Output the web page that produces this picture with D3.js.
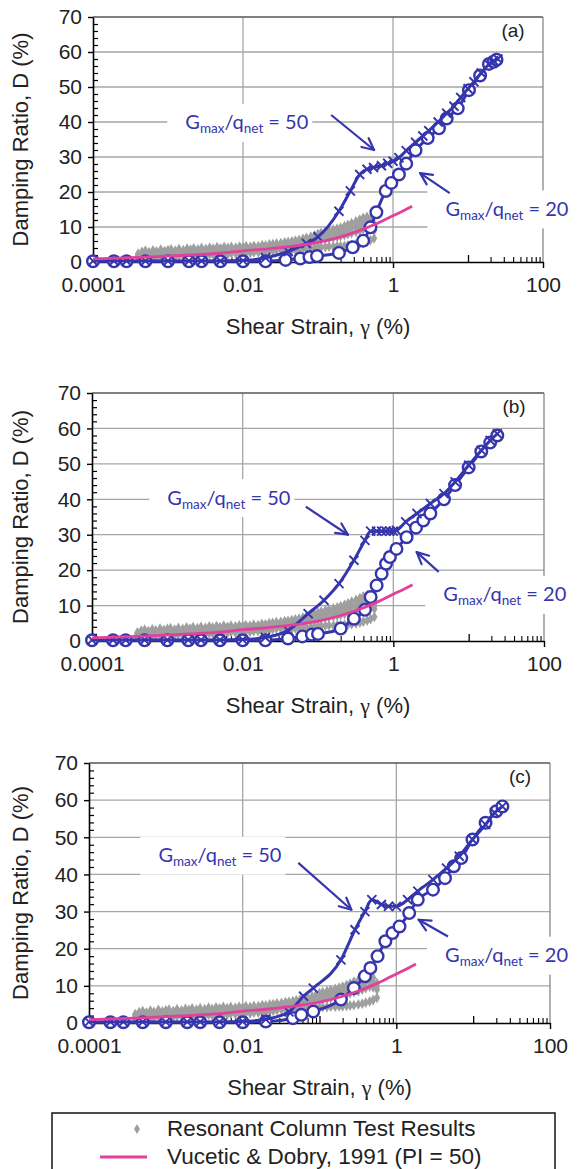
<!DOCTYPE html>
<html>
<head>
<meta charset="utf-8">
<script src="https://cdn.jsdelivr.net/npm/d3@7"></script>
<style>
  body { margin: 0; background: #fff; }
  svg { display: block; }
</style>
</head>
<body>
<svg id="chart" width="580" height="1169"></svg>
<script>
// ---- Axis ticks ----
const strainTicks = [1e-4, 1e-2, 1, 100];
const strainTickLabels = ["0.0001", "0.01", "1", "100"];
const dampingTicks = [0, 10, 20, 30, 40, 50, 60, 70];
const panelTags = ["(a)", "(b)", "(c)"];

// ---- Resonant column test results (shear strain %, damping %) ----
const rcStrain = [0.0004,0.00045,0.0005,0.00056,0.00063,0.0007,0.0008,0.0009,0.001,0.0011,
  0.00125,0.0014,0.0016,0.0018,0.002,0.0022,0.0025,0.0028,0.0032,0.0036,
  0.004,0.0045,0.005,0.0056,0.0063,0.007,0.008,0.009,0.01,0.011,
  0.0125,0.014,0.016,0.018,0.02,0.0225,0.025,0.028,0.032,0.036,
  0.04,0.045,0.05,0.056,0.063,0.07,0.08,0.09,0.1,0.11,
  0.125,0.14,0.16,0.18,0.2,0.225,0.25,0.28,0.32,0.36,
  0.4,0.45,0.5,0.56];
const rcDampHigh = [2.4,2.9,3.2,2.8,3.3,3.0,3.5,3.1,3.4,3.6,
  3.2,3.7,3.4,3.8,3.5,3.9,3.6,4.0,3.7,4.1,
  3.8,4.2,3.9,4.3,4.0,4.3,4.1,4.4,4.2,4.5,
  4.3,4.6,4.5,4.8,4.7,5.0,5.1,5.3,5.4,5.6,
  5.7,5.9,6.1,6.3,6.6,6.9,7.2,7.6,8.0,8.3,
  8.6,8.9,9.2,9.5,9.8,10.2,10.6,11.1,11.6,12.1,
  12.6,12.9,12.2,10.8];
const rcDampUpper = [2.1,2.4,2.7,2.4,2.8,2.6,2.9,2.7,2.9,3.1,
  2.9,3.2,3.0,3.3,3.1,3.4,3.2,3.5,3.3,3.6,
  3.4,3.7,3.5,3.8,3.6,3.9,3.7,4.0,3.8,4.1,
  3.9,4.2,4.1,4.4,4.3,4.6,4.7,4.9,5.0,5.2,
  5.2,5.4,5.6,5.7,6.0,6.2,6.5,6.8,7.1,7.4,
  7.6,7.9,8.1,8.4,8.6,9.0,9.4,9.7,10.1,10.6,
  11.0,11.4,10.9,9.9];
const rcDampMid = [1.8,2.0,2.2,2.0,2.3,2.2,2.4,2.3,2.5,2.6,
  2.5,2.7,2.6,2.8,2.7,2.9,2.8,3.0,2.9,3.1,
  3.0,3.2,3.1,3.3,3.2,3.4,3.3,3.5,3.4,3.6,
  3.5,3.7,3.7,3.9,3.9,4.1,4.2,4.4,4.5,4.7,
  4.6,4.8,5.0,5.1,5.3,5.5,5.7,6.0,6.2,6.4,
  6.6,6.8,7.0,7.2,7.4,7.7,8.0,8.3,8.6,9.0,
  9.4,9.8,9.6,9.0];
const rcDampLow = [1.2,1.3,1.4,1.3,1.5,1.4,1.6,1.5,1.6,1.7,
  1.6,1.8,1.7,1.9,1.8,2.0,1.9,2.1,2.0,2.2,
  2.1,2.3,2.2,2.4,2.3,2.5,2.4,2.6,2.5,2.7,
  2.6,2.8,2.8,3.0,3.0,3.2,3.3,3.5,3.6,3.8,
  3.4,3.5,3.6,3.7,3.8,3.9,4.0,4.1,4.2,4.3,
  4.3,4.4,4.4,4.5,4.5,4.6,4.7,4.8,5.0,5.2,
  5.5,5.8,6.2,6.8];

// ---- Vucetic & Dobry (1991), PI = 50 ----
const vdStrain  = [0.0001,0.0002,0.0005,0.001,0.002,0.005,0.01,0.02,0.05,0.1,0.2,0.3,0.5,0.7,1.0,1.4,1.8];
const vdDamping = [0.9,1.1,1.4,1.7,2.0,2.5,3.2,3.7,4.6,5.6,7.2,8.4,10.2,11.6,13.2,14.7,15.9];

// ---- Panel (a) ----
const g50StrainA = [1e-4,1.9e-4,2.8e-4,5e-4,1e-3,1.9e-3,2.8e-3,5e-3,1e-2,0.02,0.04,0.07,0.1,0.19,0.27,0.36,0.45,0.55,0.7,0.85,1.0,1.2,1.5,2.0,2.5,3.0,4.0,5.2,6.5,8.0,10,12,15,19,22,25];
const g50DampA   = [0.3,0.3,0.3,0.3,0.3,0.3,0.3,0.3,0.4,1.2,3.0,5.3,7.2,14.5,20.3,25.0,26.5,27.0,27.5,28.2,28.8,29.8,31.8,34.2,36.0,37.5,40.0,42.5,44.5,47.0,49.5,51.5,54.0,56.5,57.5,58.0];
const g20StrainA = [1e-4,1.9e-4,2.8e-4,5e-4,1e-3,1.9e-3,2.8e-3,5e-3,1e-2,0.02,0.037,0.058,0.077,0.097,0.19,0.29,0.4,0.5,0.6,0.8,0.95,1.2,1.5,2.0,2.9,4.1,5.2,7.3,10.3,14.5,19,22,24];
const g20DampA   = [0.2,0.2,0.2,0.2,0.2,0.2,0.2,0.2,0.2,0.2,0.6,1.0,1.4,1.7,2.6,4.2,6.1,9.9,14.2,20.3,22.6,25.0,28.1,31.9,35.4,38.2,41.0,43.9,49.1,53.3,56.6,57.2,57.8];

// ---- Panel (b) ----
const g50StrainB = [1e-4,1.9e-4,2.8e-4,5e-4,1e-3,1.9e-3,2.8e-3,5e-3,1e-2,0.02,0.04,0.074,0.12,0.19,0.3,0.42,0.5,0.6,0.7,0.8,0.9,1.0,1.1,1.46,2.06,3.1,4.7,6.6,10,14.7,19.3,24];
const g50DampB   = [0.3,0.3,0.3,0.3,0.3,0.3,0.3,0.3,0.4,1.0,3.0,7.7,11.5,16.2,22.8,28.4,31.0,31.0,31.0,31.0,31.0,31.0,31.2,33.6,36.0,38.8,41.6,44.9,49.6,53.8,56.6,58.5];
const g20StrainB = [1e-4,1.9e-4,2.8e-4,5e-4,1e-3,1.9e-3,2.8e-3,5e-3,1e-2,0.02,0.04,0.062,0.083,0.1,0.2,0.3,0.42,0.5,0.6,0.7,0.8,0.9,1.1,1.5,2.0,2.5,3.1,4.7,6.6,10,14.7,19.3,24];
const g20DampB   = [0.2,0.2,0.2,0.2,0.2,0.2,0.2,0.2,0.2,0.2,0.7,1.3,1.8,2.0,3.5,6.3,8.8,12.4,15.7,19.0,21.8,23.7,26.0,29.3,32.0,34.0,36.0,40.0,44.0,49.0,53.5,56.0,58.0];

// ---- Panel (c) ----
const g50StrainC = [1e-4,1.9e-4,2.8e-4,5e-4,1e-3,1.9e-3,2.8e-3,5e-3,1e-2,0.02,0.04,0.062,0.083,0.19,0.29,0.39,0.48,0.64,0.79,1.0,1.4,1.9,3.0,4.5,6.6,9.8,14.5,19,24];
const g50DampC   = [0.3,0.3,0.3,0.3,0.3,0.3,0.3,0.3,0.4,1.0,3.0,7.2,9.4,17.0,25.1,30.0,33.2,31.9,31.4,31.4,33.2,35.5,38.6,41.7,44.9,49.4,53.4,56.6,58.3];
const g20StrainC = [1e-4,1.9e-4,2.8e-4,5e-4,1e-3,1.9e-3,2.8e-3,5e-3,1e-2,0.02,0.045,0.058,0.083,0.19,0.28,0.39,0.46,0.57,0.72,0.89,1.1,1.47,1.9,3.0,4.3,5.6,7.0,9.8,14.5,20,24];
const g20DampC   = [0.2,0.2,0.2,0.2,0.2,0.2,0.2,0.2,0.2,0.4,1.3,2.2,3.1,6.3,9.4,12.6,14.8,18.0,22.0,24.2,26.0,29.6,33.2,35.9,39.0,42.2,44.4,49.4,53.9,57.0,58.3];

const legendLabels = ["Resonant Column Test Results", "Vucetic & Dobry, 1991 (PI = 50)"];

// ---- Styling ----
const BLUE = "#3535ad";
const PINK = "#e2409a";
const GREY = "#9f9f9f";
const GRID = "#a6a6a6";
const SANS = "'Liberation Sans', Arial, sans-serif";
const LABEL_FONT = "Lato, 'Open Sans', sans-serif";

const svg = d3.select("#chart");

// Plot frames for the three stacked panels
const frames = [
  { left: 93, right: 543, top: 17,  bottom: 262 },
  { left: 92, right: 544, top: 393, bottom: 641 },
  { left: 89, right: 550, top: 763, bottom: 1023 }
];

// Annotation placement in data coordinates (strain, damping)
const panels = [
  { tag: panelTags[0], g50: [g50StrainA, g50DampA], g20: [g20StrainA, g20DampA],
    lab50: [1.7e-3, 39.6], arr50: [[0.15, 42], [0.56, 32]],
    lab20: [5.0, 14.9],    arr20: [[5.7, 19.7], [2.3, 25.4]] },
  { tag: panelTags[1], g50: [g50StrainB, g50DampB], g20: [g20StrainB, g20DampB],
    lab50: [1.0e-3, 40.2], arr50: [[0.069, 37.9], [0.25, 30.0]],
    lab20: [4.6, 12.9],    arr20: [[4.0, 19.5], [2.04, 25.1]] },
  { tag: panelTags[2], g50: [g50StrainC, g50DampC], g20: [g20StrainC, g20DampC],
    lab50: [8.0e-4, 44.9], arr50: [[0.053, 43.1], [0.26, 30.5]],
    lab20: [4.3, 18.0],    arr20: [[4.7, 23.3], [1.95, 27.8]] }
];

function gLabel(g, x, y, value) {
  const t = g.append("text")
    .attr("x", x).attr("y", y)
    .attr("font-family", LABEL_FONT).attr("font-size", 20)
    .attr("fill", BLUE);
  t.append("tspan").text("G");
  t.append("tspan").attr("font-size", 13.5).attr("dy", 4).text("max");
  t.append("tspan").attr("dy", -4).text("/q");
  t.append("tspan").attr("font-size", 13.5).attr("dy", 4).text("net");
  t.append("tspan").attr("dy", -4).text(" = " + value);
  const bb = t.node().getBBox();
  g.insert("rect", () => t.node())
    .attr("x", bb.x - 18).attr("y", bb.y + bb.height / 2 - 19)
    .attr("width", bb.width + 22).attr("height", 38)
    .attr("fill", "#fff");
  return t;
}

function arrow(g, p0, p1) {
  g.append("line").attr("x1", p0[0]).attr("y1", p0[1]).attr("x2", p1[0]).attr("y2", p1[1])
    .attr("stroke", BLUE).attr("stroke-width", 2.2);
  const ang = Math.atan2(p1[1] - p0[1], p1[0] - p0[0]);
  [-0.45, 0.45].forEach(da => {
    const a = ang + Math.PI + da;
    g.append("line")
      .attr("x1", p1[0]).attr("y1", p1[1])
      .attr("x2", p1[0] + 13 * Math.cos(a)).attr("y2", p1[1] + 13 * Math.sin(a))
      .attr("stroke", BLUE).attr("stroke-width", 2.2).attr("stroke-linecap", "round");
  });
}

panels.forEach((p, i) => {
  const f = frames[i];
  const g = svg.append("g");
  const x = d3.scaleLog().domain([1e-4, 100]).range([f.left, f.right]);
  const y = d3.scaleLinear().domain([0, 70]).range([f.bottom, f.top]);

  // Gridlines
  dampingTicks.filter(v => v > 0 && v < 70).forEach(v => {
    g.append("line").attr("x1", f.left).attr("x2", f.right).attr("y1", y(v)).attr("y2", y(v))
      .attr("stroke", GRID).attr("stroke-width", 1.3);
  });
  [1e-2, 1].forEach(v => {
    g.append("line").attr("x1", x(v)).attr("x2", x(v)).attr("y1", f.top).attr("y2", f.bottom)
      .attr("stroke", GRID).attr("stroke-width", 1.3);
  });
  // Frame: top and right edges
  g.append("line").attr("x1", f.left).attr("x2", f.right).attr("y1", f.top).attr("y2", f.top)
    .attr("stroke", "#555").attr("stroke-width", 1.5);
  g.append("line").attr("x1", f.right).attr("x2", f.right).attr("y1", f.top).attr("y2", f.bottom)
    .attr("stroke", "#888").attr("stroke-width", 1.3);

  // Annotation labels (white boxes hide the grid beneath)
  const ann = g.append("g");
  gLabel(ann, x(p.lab50[0]), y(p.lab50[1]) + 6, 50);
  gLabel(ann, x(p.lab20[0]), y(p.lab20[1]) + 6, 20);

  // Left axis with outward major ticks and inward minor ticks
  const yAxis = g.append("g").attr("transform", `translate(${f.left},0)`)
    .call(d3.axisLeft(y).tickValues(dampingTicks).tickSize(5).tickSizeOuter(0).tickFormat(d3.format("d")));
  yAxis.select(".domain").attr("stroke", "#000").attr("stroke-width", 1.6);
  yAxis.selectAll(".tick line").attr("stroke", "#000").attr("stroke-width", 1.4);
  yAxis.selectAll(".tick text").attr("font-family", SANS).attr("font-size", 21).attr("fill", "#222").attr("x", -11);
  const yMinor = d3.range(2, 70, 2).filter(v => v % 10 !== 0);
  g.append("g").attr("transform", `translate(${f.left},0)`)
    .call(d3.axisRight(y).tickValues(yMinor).tickSize(5).tickFormat(""))
    .call(a => a.select(".domain").remove())
    .selectAll(".tick line").attr("stroke", "#000").attr("stroke-width", 1.2);

  // Bottom axis
  const xAxis = g.append("g").attr("transform", `translate(0,${f.bottom})`)
    .call(d3.axisBottom(x).tickValues(strainTicks).tickSize(6).tickSizeOuter(0)
      .tickFormat((d, k) => strainTickLabels[k]));
  xAxis.select(".domain").attr("stroke", "#000").attr("stroke-width", 1.6);
  xAxis.selectAll(".tick line").attr("stroke", "#000").attr("stroke-width", 1.4);
  xAxis.selectAll(".tick text").attr("font-family", SANS).attr("font-size", 21).attr("fill", "#222").attr("y", 15);
  const xMid = [1e-3, 1e-1, 10];
  const xMinor = [];
  [1e-4, 1e-3, 1e-2, 1e-1, 10].forEach(dec => d3.range(2, 10).forEach(m => xMinor.push(dec * m)));
  g.append("g").attr("transform", `translate(0,${f.bottom})`)
    .call(d3.axisTop(x).tickValues(xMid).tickSize(7).tickFormat(""))
    .call(a => a.select(".domain").remove())
    .selectAll(".tick line").attr("stroke", "#000").attr("stroke-width", 1.3);
  g.append("g").attr("transform", `translate(0,${f.bottom})`)
    .call(d3.axisTop(x).tickValues(xMinor).tickSize(5).tickFormat(""))
    .call(a => a.select(".domain").remove())
    .selectAll(".tick line").attr("stroke", "#000").attr("stroke-width", 1.1);

  // Resonant column results
  const diamond = d3.symbol().type(d3.symbolDiamond).size(34);
  [rcDampLow, rcDampMid, rcDampUpper, rcDampHigh].forEach(row => {
    g.append("g").selectAll("path").data(rcStrain).join("path")
      .attr("d", diamond)
      .attr("transform", (s, k) => `translate(${x(s)},${y(row[k])})`)
      .attr("fill", GREY);
  });

  const line = d3.line().x(d => x(d[0])).y(d => y(d[1])).curve(d3.curveMonotoneX);

  // Gmax/qnet = 20 : circles
  const d20 = p.g20[0].map((s, k) => [s, p.g20[1][k]]);
  g.append("path").attr("d", line(d20)).attr("fill", "none").attr("stroke", BLUE).attr("stroke-width", 3);
  g.append("g").selectAll("circle").data(d20).join("circle")
    .attr("cx", d => x(d[0])).attr("cy", d => y(d[1])).attr("r", 5.8)
    .attr("fill", "#fff").attr("stroke", BLUE).attr("stroke-width", 2.4);

  // Gmax/qnet = 50 : crosses
  const d50 = p.g50[0].map((s, k) => [s, p.g50[1][k]]);
  g.append("path").attr("d", line(d50)).attr("fill", "none").attr("stroke", BLUE).attr("stroke-width", 3);
  const cross = d3.symbol().type(d3.symbolTimes).size(55);
  g.append("g").selectAll("path").data(d50).join("path")
    .attr("d", cross)
    .attr("transform", d => `translate(${x(d[0])},${y(d[1])})`)
    .attr("fill", "none").attr("stroke", BLUE).attr("stroke-width", 1.9);

  // Vucetic & Dobry curve
  const dvd = vdStrain.map((s, k) => [s, vdDamping[k]]);
  g.append("path").attr("d", line(dvd)).attr("fill", "none").attr("stroke", PINK).attr("stroke-width", 2.8);

  // Arrows
  arrow(g, [x(p.arr50[0][0]), y(p.arr50[0][1])], [x(p.arr50[1][0]), y(p.arr50[1][1])]);
  arrow(g, [x(p.arr20[0][0]), y(p.arr20[0][1])], [x(p.arr20[1][0]), y(p.arr20[1][1])]);

  // Panel tag
  g.append("text").attr("x", f.right - 30).attr("y", f.top + 20)
    .attr("text-anchor", "middle").attr("font-family", SANS).attr("font-size", 19).attr("fill", "#222")
    .text(p.tag);

  // Axis titles
  g.append("text")
    .attr("transform", `translate(${22},${(f.top + f.bottom) / 2}) rotate(-90)`)
    .attr("text-anchor", "middle").attr("dominant-baseline", "middle")
    .attr("font-family", SANS).attr("font-size", 22).attr("fill", "#222")
    .text("Damping Ratio, D (%)");
  const xt = g.append("text")
    .attr("x", (f.left + f.right) / 2).attr("y", f.bottom + 72)
    .attr("text-anchor", "middle")
    .attr("font-family", SANS).attr("font-size", 22).attr("fill", "#222");
  xt.append("tspan").text("Shear Strain, ");
  xt.append("tspan").attr("font-family", "'Liberation Serif', 'DejaVu Serif', serif").text("γ");
  xt.append("tspan").text(" (%)");
});

// ---- Legend ----
const lg = svg.append("g");
lg.append("rect").attr("x", 52).attr("y", 1113).attr("width", 503).attr("height", 70)
  .attr("fill", "#fff").attr("stroke", "#222").attr("stroke-width", 1.6);
lg.append("path").attr("d", d3.symbol().type(d3.symbolDiamond).size(30)())
  .attr("transform", "translate(137,1129)").attr("fill", GREY);
lg.append("line").attr("x1", 100).attr("x2", 147).attr("y1", 1157).attr("y2", 1157)
  .attr("stroke", PINK).attr("stroke-width", 2.8);
legendLabels.forEach((t, k) => {
  lg.append("text").attr("x", 167).attr("y", 1136 + k * 28)
    .attr("font-family", SANS).attr("font-size", 22.5).attr("fill", "#222").text(t);
});
</script>
</body>
</html>
